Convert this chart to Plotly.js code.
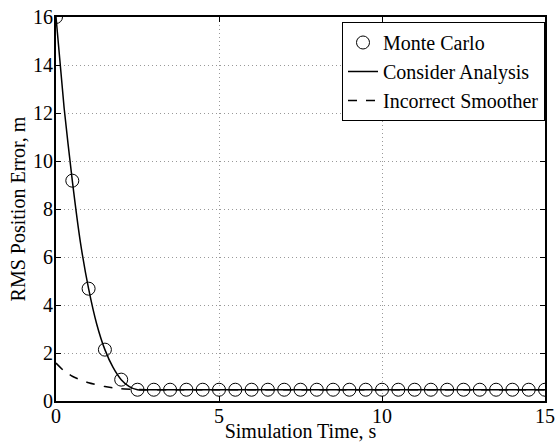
<!DOCTYPE html>
<html>
<head>
<meta charset="utf-8">
<script src="https://cdn.plot.ly/plotly-3.0.1.min.js"></script>
<style>html,body{margin:0;padding:0;background:#fff;}#chart{width:555px;height:442px;}</style>
</head>
<body>
<div id="chart"></div>
<script>
// Monte Carlo samples every 0.5 s
const mcTime = [0,0.5,1,1.5,2,2.5,3,3.5,4,4.5,5,5.5,6,6.5,7,7.5,8,8.5,9,9.5,10,10.5,11,11.5,12,12.5,13,13.5,14,14.5,15];
const mcRms  = [16,9.18,4.68,2.14,0.89,0.47,0.47,0.47,0.47,0.47,0.47,0.47,0.47,0.47,0.47,0.47,0.47,0.47,0.47,0.47,0.47,0.47,0.47,0.47,0.47,0.47,0.47,0.47,0.47,0.47,0.47];
// Consider analysis curve
const caTime = [0,0.25,0.5,0.75,1,1.25,1.5,1.75,2,2.25,2.5,3,5,10,15];
const caRms  = [16,12.2,9.18,6.6,4.68,3.2,2.14,1.4,0.89,0.6,0.47,0.47,0.47,0.47,0.47];
// Incorrect smoother curve
const isTime = [0,0.25,0.5,0.75,1,1.5,2,2.5,3,5,10,15];
const isRms  = [1.58,1.25,1.03,0.88,0.76,0.6,0.51,0.48,0.47,0.47,0.47,0.47];

const fontFam = '"Liberation Serif", "Times New Roman", serif';

const traces = [
  {x: mcTime, y: mcRms, name: 'Monte Carlo', mode: 'markers', type: 'scatter',
   marker: {symbol: 'circle-open', size: 13, color: '#000', line: {width: 1, color: '#000'}}},
  {x: caTime, y: caRms, name: 'Consider Analysis', mode: 'lines', type: 'scatter',
   line: {color: '#000', width: 1.5, shape: 'spline', smoothing: 0.6}},
  {x: isTime, y: isRms, name: 'Incorrect Smoother', mode: 'lines', type: 'scatter',
   line: {color: '#000', width: 1.5, dash: 'dash', shape: 'spline', smoothing: 0.6}}
];

const axisCommon = {
  showline: true, linecolor: '#000', linewidth: 2, mirror: 'ticks',
  ticks: 'inside', ticklen: 5, tickcolor: '#000', tickwidth: 1,
  showgrid: true, gridcolor: '#999', griddash: '1px,3px', gridwidth: 1,
  zeroline: false, tickfont: {family: fontFam, size: 20, color: '#000'}
};

const layout = {
  width: 555, height: 442,
  margin: {l: 56, r: 10, t: 17, b: 41},
  paper_bgcolor: '#fff', plot_bgcolor: '#fff',
  font: {family: fontFam, color: '#000'},
  showlegend: true,
  xaxis: Object.assign({}, axisCommon, {
    range: [0, 15], tickvals: [0,5,10,15], ticktext: ['0','5','10','15'], ticklabelstandoff: -4,
    title: {text: 'Simulation Time, s', font: {family: fontFam, size: 20, color: '#000'}, standoff: 4}
  }),
  yaxis: Object.assign({}, axisCommon, {
    range: [0, 16], tickvals: [0,2,4,6,8,10,12,14,16], ticklabelstandoff: -3,
    title: {text: 'RMS Position Error, m', font: {family: fontFam, size: 20, color: '#000'}, standoff: 2}
  }),
  legend: {
    x: 1.0, y: 0.987, xanchor: 'right', yanchor: 'top',
    bgcolor: '#fff', bordercolor: '#000', borderwidth: 1,
    font: {family: fontFam, size: 20, color: '#000'},
    tracegroupgap: 0, itemwidth: 30
  }
};

Plotly.newPlot('chart', traces, layout, {displayModeBar: false, staticPlot: true});
</script>
</body>
</html>
